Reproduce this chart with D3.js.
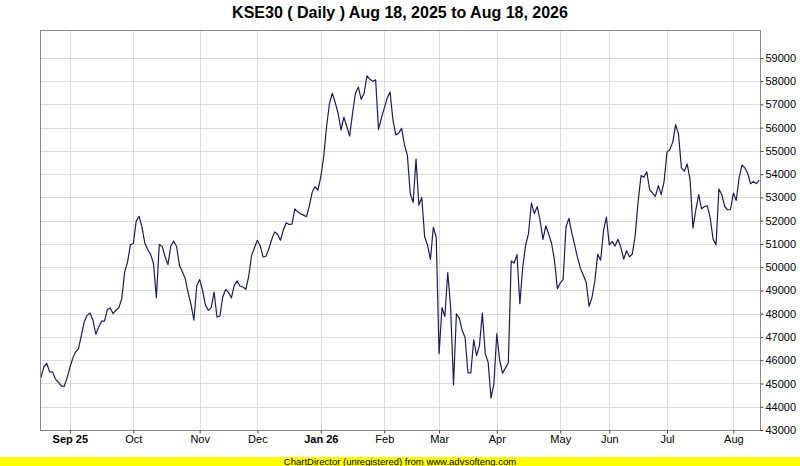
<!DOCTYPE html>
<html>
<head>
<meta charset="utf-8">
<script src="https://cdn.jsdelivr.net/npm/d3@7"></script>
<style>
  body { margin: 0; background: #fff; }
  svg { display: block; font-family: "Liberation Sans", Arial, sans-serif; }
</style>
</head>
<body>
<div id="chart"></div>
<script>
// closing values, one per trading day (Aug 18, 2025 .. Aug 18, 2026)
const closes = [
  45260, 45720, 45860, 45500, 45500, 45190, 45060, 44900, 44870, 45220,
  45670, 46080, 46360, 46500, 47080, 47650, 47930, 48030, 47720, 47120,
  47430, 47680, 47680, 48180, 48250, 48000, 48150, 48260, 48650, 49790,
  50220, 50970, 51010, 51980, 52190, 51720, 51030, 50760, 50550, 50150,
  48690, 50980, 50890, 50460, 50110, 50910, 51120, 50890, 50080, 49800,
  49510, 48900, 48400, 47720, 49200, 49470, 49010, 48370, 48150, 48250,
  48930, 47860, 47890, 48720, 49040, 48920, 48680, 49220, 49410, 49180,
  49150, 49050, 49610, 50510, 50840, 51160, 50910, 50440, 50470, 50800,
  51200, 51520, 51420, 51160, 51590, 51910, 51840, 51850, 52510, 52380,
  52300, 52240, 52170, 52630, 53220, 53460, 53320, 53890, 54750, 56050,
  57050, 57480, 57080, 56620, 55900, 56450, 56050, 55640, 56620, 57480,
  57740, 57220, 57480, 58230, 58090, 57990, 58060, 55930, 56410, 56840,
  57270, 57530, 56330, 55690, 55760, 55970, 55260, 54820, 53170, 52780,
  54650, 52670, 53000, 51300, 50950, 50340, 51710, 51300, 46280, 48260,
  47880, 49770, 48290, 44950, 48000, 47810, 47280, 46990, 45460, 45460,
  46880, 46200, 46640, 48030, 46280, 45920, 44380, 44980, 47140, 45990,
  45440, 45670, 45890, 50270, 50180, 50540, 48430, 50010, 50950, 51450,
  52770, 52310, 52600, 52020, 51200, 51780, 51420, 51020, 50300, 49080,
  49320, 49470, 51740, 52100, 51480, 50950, 50400, 49950, 49650, 49350,
  48320, 48690, 49440, 50560, 50300, 51570, 52150, 50960, 51100, 50910,
  51200, 50860, 50350, 50710, 50450, 50570, 51390, 52830, 53940, 53870,
  54100, 53330, 53190, 53050, 53510, 53120, 53690, 54950, 55060, 55380,
  56130, 55710, 54270, 54130, 54440, 53770, 51680, 52470, 53120, 52510,
  52610, 52640, 52110, 51200, 50960, 53360, 53120, 52610, 52470, 52470,
  53190, 52870, 53840, 54390, 54270, 54030, 53590, 53690, 53590, 53750
];

// first trading day of each month (index into closes)
const monthIndex = [10, 32, 55, 75, 97, 119, 138, 158, 180, 197, 217, 240];
const monthLabels = ["Sep 25", "Oct", "Nov", "Dec", "Jan 26", "Feb", "Mar", "Apr", "May", "Jun", "Jul", "Aug"];
const yearStart = ["Sep 25", "Jan 26"];

const yTicks = d3.range(43000, 59001, 1000);
const yMin = 43000, yMax = 60200;

const titleText = "KSE30 ( Daily ) Aug 18, 2025 to Aug 18, 2026";
const footerText = "ChartDirector (unregistered) from www.advsofteng.com";

const W = 800, H = 466;
const plot = {left: 41, right: 760, top: 30, bottom: 430};

const svg = d3.select("#chart")
              .append("svg")
              .attr("width", W)
              .attr("height", H);

const x = d3.scaleLinear()
            .domain([0, closes.length - 1])
            .range([plot.left, plot.right - 0.7]);
const y = d3.scaleLinear()
            .domain([yMin, yMax])
            .range([plot.bottom, plot.top]);

// title
svg.append("text")
   .attr("x", W / 2)
   .attr("y", 18)
   .attr("text-anchor", "middle")
   .style("font-size", "16px")
   .style("font-weight", "bold")
   .text(titleText);

// grid
svg.append("g")
   .selectAll("line")
   .data(yTicks)
   .join("line")
   .attr("x1", plot.left)
   .attr("x2", plot.right)
   .attr("y1", d => Math.round(y(d)) + 0.5)
   .attr("y2", d => Math.round(y(d)) + 0.5)
   .attr("stroke", "#dcdcdc");
svg.append("g")
   .selectAll("line")
   .data(monthIndex)
   .join("line")
   .attr("x1", d => Math.round(x(d)) + 0.5)
   .attr("x2", d => Math.round(x(d)) + 0.5)
   .attr("y1", plot.top)
   .attr("y2", plot.bottom)
   .attr("stroke", "#dcdcdc");

// price line
const line = d3.line()
               .x((d, i) => x(i))
               .y(d => y(d));
svg.append("path")
   .datum(closes)
   .attr("fill", "none")
   .attr("stroke", "#1c1c5c")
   .attr("stroke-width", 1.2)
   .attr("stroke-linejoin", "round")
   .attr("d", line);

// plot frame
svg.append("rect")
   .attr("x", plot.left - 0.5)
   .attr("y", plot.top + 0.5)
   .attr("width", plot.right - plot.left + 1)
   .attr("height", plot.bottom - plot.top)
   .attr("fill", "none")
   .attr("stroke", "#888");

// right axis
const yAxis = svg.append("g")
   .attr("transform", "translate(" + (plot.right + 0.5) + ",0)")
   .call(d3.axisRight(y).tickValues(yTicks).tickSize(3).tickPadding(2).tickFormat(d3.format("d")));
yAxis.select(".domain").remove();
yAxis.selectAll(".tick line").attr("stroke", "#444");
yAxis.selectAll("text")
     .style("font-size", "11px")
     .attr("fill", "#000")
     .style("font-family", "'Liberation Sans', Arial, sans-serif");

// bottom axis
const xAxis = svg.append("g")
   .attr("transform", "translate(0," + (plot.bottom + 0.5) + ")")
   .call(d3.axisBottom(x).tickValues(monthIndex).tickSize(3).tickPadding(2)
           .tickFormat((d, i) => monthLabels[i]));
xAxis.select(".domain").remove();
xAxis.selectAll(".tick line").attr("stroke", "#444");
xAxis.selectAll("text")
     .style("font-size", "11px")
     .attr("fill", "#000")
     .style("font-family", "'Liberation Sans', Arial, sans-serif")
     .style("font-weight", (d, i) => yearStart.includes(monthLabels[i]) ? "bold" : "normal");

// footer
svg.append("rect")
   .attr("x", 0)
   .attr("y", 457)
   .attr("width", W)
   .attr("height", 9)
   .attr("fill", "#ffff00");
svg.append("text")
   .attr("x", W / 2)
   .attr("y", 464.5)
   .attr("text-anchor", "middle")
   .style("font-size", "9.5px")
   .text(footerText);
</script>
</body>
</html>
